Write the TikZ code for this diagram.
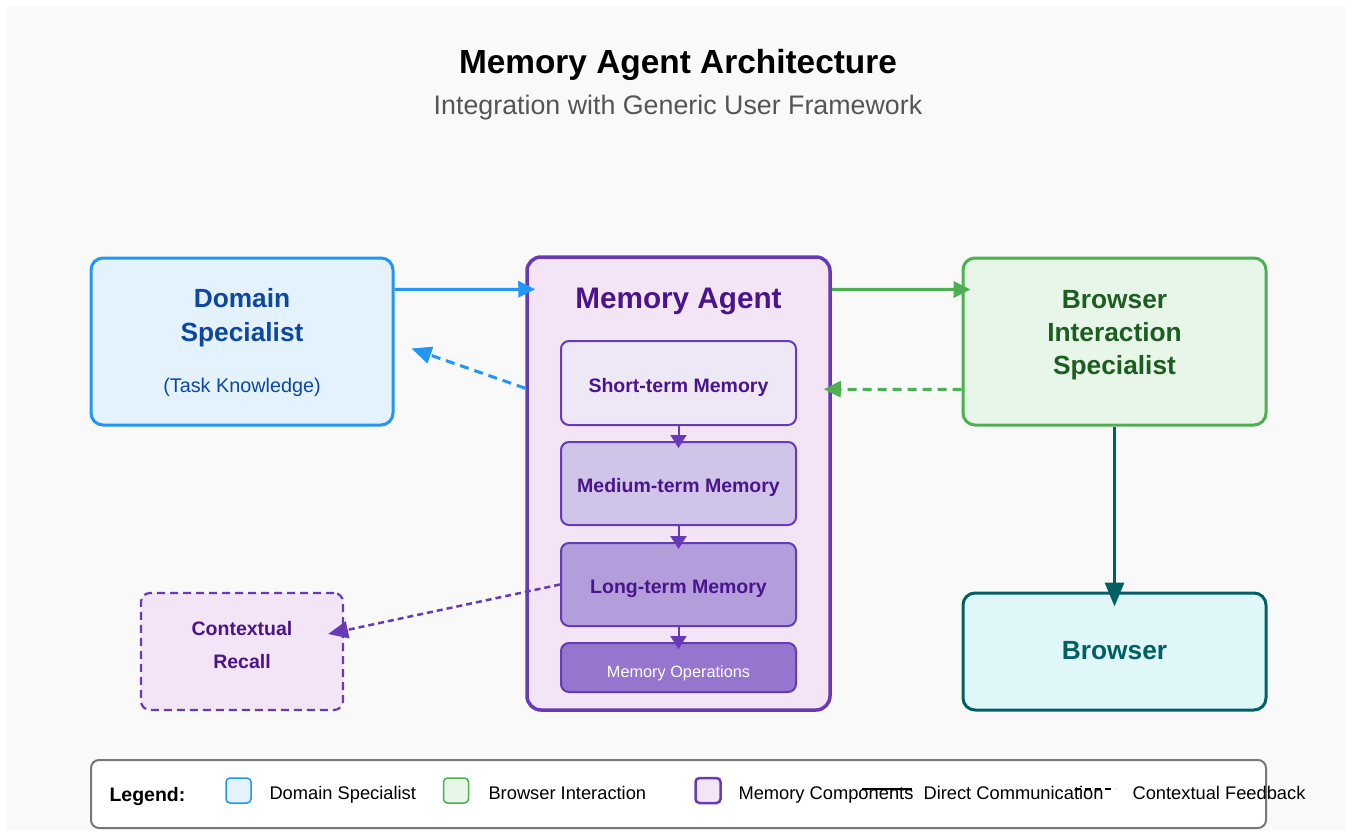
\documentclass[tikz,border=0pt]{standalone}
\usepackage{fontspec}
\setmainfont{Liberation Sans}
\usetikzlibrary{arrows.meta,calc}
\definecolor{bgc}{HTML}{F9F9F9}
\definecolor{blueC}{HTML}{2196F3}
\definecolor{blueF}{HTML}{E3F2FD}
\definecolor{blueT}{HTML}{0D47A1}
\definecolor{greenC}{HTML}{4CAF50}
\definecolor{greenF}{HTML}{E8F5E9}
\definecolor{greenT}{HTML}{1B5E20}
\definecolor{purC}{HTML}{673AB7}
\definecolor{purF}{HTML}{F3E5F5}
\definecolor{purT}{HTML}{4A148C}
\definecolor{shortF}{HTML}{EDE7F6}
\definecolor{medF}{HTML}{D1C4E9}
\definecolor{longF}{HTML}{B39DDB}
\definecolor{opsF}{HTML}{9575CD}
\definecolor{tealC}{HTML}{006064}
\definecolor{tealF}{HTML}{E0F7FA}
\definecolor{subT}{HTML}{555555}
\definecolor{legC}{HTML}{777777}
\tikzset{
  bigbox/.style={draw, line width=3pt, rounded corners=12pt, inner sep=0pt},
  membox/.style={draw=purC, line width=2pt, rounded corners=8pt, inner sep=0pt, minimum width=235pt},
  headtxt/.style={anchor=base, font=\fontsize{26.3}{30}\selectfont\bfseries},
  memtxt/.style={anchor=base, font=\fontsize{19.5}{23}\selectfont\bfseries, text=purT},
  legtxt/.style={anchor=base west, font=\fontsize{18.3}{22}\selectfont, text=black},
  swatch/.style={draw, line width=1.5pt, rounded corners=4pt, minimum width=25pt, minimum height=25pt, inner sep=0pt},
  tipM/.style={-{Triangle[length=17pt,width=16pt]}},
  tipD/.style={-{Triangle[length=20pt,width=17pt]}},
  tipS/.style={-{Triangle[length=13pt,width=16pt]}},
  tipL/.style={-{Triangle[length=24pt,width=19pt]}},
}
\begin{document}
\begin{tikzpicture}[x=1pt,y=-1pt]
\useasboundingbox (0,0) rectangle (1352,837);
\fill[white] (0,0) rectangle (1352,837);
\fill[bgc] (7,7) rectangle (1346,830);

% titles
\node[anchor=base, font=\fontsize{33.4}{38}\selectfont\bfseries] (title) at (678,73.5) {Memory Agent Architecture};
\node[anchor=base, font=\fontsize{26.8}{31}\selectfont, text=subT] (subtitle) at (678,114.5) {Integration with Generic User Framework};

% main boxes
\node[bigbox, draw=blueC, fill=blueF, minimum width=302pt, minimum height=167pt] (dom) at (242,341.5) {};
\node[headtxt, text=blueT] (domt1) at (242,307) {Domain};
\node[headtxt, text=blueT] (domt2) at (242,341) {Specialist};
\node[anchor=base, font=\fontsize{19.8}{23}\selectfont, text=blueT] (domt3) at (242,392) {(Task Knowledge)};

\node[bigbox, draw=purC, line width=3.5pt, rounded corners=14pt, fill=purF, minimum width=303pt, minimum height=453pt] (agent) at (678.5,483.5) {};
\node[anchor=base, font=\fontsize{29.7}{34}\selectfont\bfseries, text=purT] (agentt) at (678.5,308) {Memory Agent};

\node[membox, fill=shortF, minimum height=84pt] (short) at (678.5,383) {};
\node[memtxt] (shortt) at (678.5,392) {Short-term Memory};
\node[membox, fill=medF, minimum height=83pt] (med) at (678.5,483.5) {};
\node[memtxt] (medt) at (678.5,492.5) {Medium-term Memory};
\node[membox, fill=longF, minimum height=83pt] (long) at (678.5,584.5) {};
\node[memtxt] (longt) at (678.5,593.5) {Long-term Memory};
\node[membox, fill=opsF, minimum height=49pt] (ops) at (678.5,667.5) {};
\node[anchor=base, font=\fontsize{16.3}{20}\selectfont, text=white] (opst) at (678.5,677) {Memory Operations};

\node[bigbox, draw=greenC, fill=greenF, minimum width=303pt, minimum height=167pt] (bis) at (1114.5,341.5) {};
\node[headtxt, text=greenT] (bist1) at (1114.5,308) {Browser};
\node[headtxt, text=greenT] (bist2) at (1114.5,341) {Interaction};
\node[headtxt, text=greenT] (bist3) at (1114.5,374) {Specialist};

\node[bigbox, draw=tealC, fill=tealF, minimum width=303pt, minimum height=117pt] (brow) at (1114.5,651.5) {};
\node[headtxt, text=tealC] (browt) at (1114.5,659.5) {Browser};

\node[draw=purC, line width=2.2pt, dash pattern=on 8pt off 5pt, rounded corners=9pt, fill=purF, minimum width=202pt, minimum height=117pt, inner sep=0pt] (rec) at (242,651.5) {};
\node[memtxt] (rect1) at (242,635) {Contextual};
\node[memtxt] (rect2) at (242,668.5) {Recall};

% connectors
\draw[blueC, line width=3pt, tipM] ($(dom.north east)+(0,33)$) -- ($(agent.north west)+(10,34)$);
\draw[blueC, line width=3pt, dash pattern=on 9pt off 6pt, tipD] ($(agent.north west)+(0,133)$) -- ($(dom.north east)+(17,92)$);
\draw[greenC, line width=3pt, tipM] ($(agent.north east)+(0,34)$) -- ($(bis.north west)+(9,33)$);
\draw[greenC, line width=3pt, dash pattern=on 9pt off 6pt, tipM] ($(bis.north west)+(0,133)$) -- ($(agent.north east)+(-8,134)$);
\draw[tealC, line width=3pt, tipL] (bis.south) -- ($(brow.north)+(0,15)$);
\draw[purC, line width=2pt, tipS] (short.south) -- ($(med.north)+(0,7)$);
\draw[purC, line width=2pt, tipS] (med.south) -- ($(long.north)+(0,7)$);
\draw[purC, line width=2pt, tipS] (long.south) -- ($(ops.north)+(0,7)$);
\draw[purC, line width=2.5pt, dash pattern=on 6pt off 4pt, tipD] (long.west) -- ($(rec.east)+(-16,-17.5)$);

% legend
\node[draw=legC, line width=2pt, fill=white, rounded corners=8pt, minimum width=1175pt, minimum height=68pt, inner sep=0pt] (legend) at (678.5,794) {};
\node[anchor=base west, font=\fontsize{19.5}{23}\selectfont\bfseries] (legt) at (106,801) {Legend:};
\node[swatch, draw=blueC, fill=blueF] (sw1) at (238.5,790.5) {};
\node[legtxt] (lt1) at (266,799) {Domain Specialist};
\node[swatch, draw=greenC, fill=greenF] (sw2) at (456,790.5) {};
\node[legtxt] (lt2) at (485,799) {Browser Interaction};
\node[swatch, draw=purC, line width=2.5pt, fill=purF] (sw3) at (708,790.5) {};
\node[legtxt] (lt3) at (735,799) {Memory Components};
\coordinate (l1a) at (862,789);
\coordinate (l1b) at (912,789);
\draw[black, line width=2pt] (l1a) -- (l1b);
\node[legtxt] (lt4) at (920,799) {Direct Communication};
\coordinate (l2a) at (1075,789);
\coordinate (l2b) at (1115,789);
\draw[black, line width=2pt, dash pattern=on 6pt off 4pt] (l2a) -- (l2b);
\node[legtxt] (lt5) at (1129,799) {Contextual Feedback};
\end{tikzpicture}
\end{document}
